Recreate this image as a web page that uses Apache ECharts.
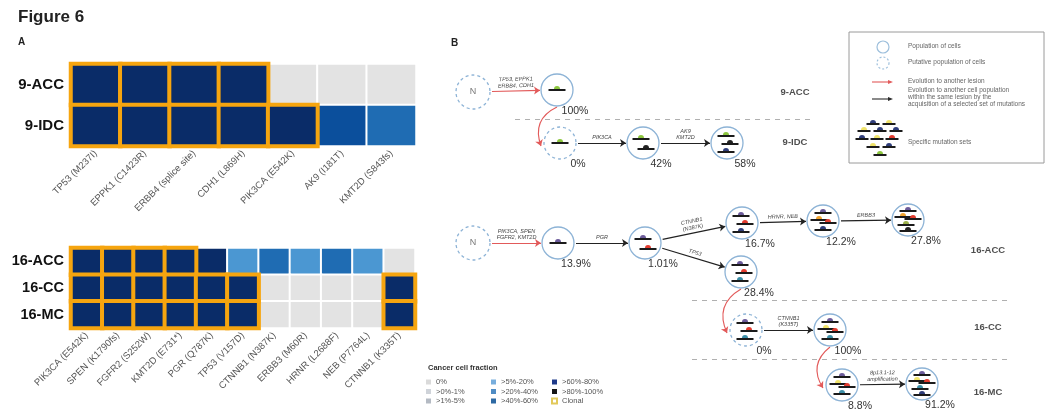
<!DOCTYPE html>
<html>
<head>
<meta charset="utf-8">
<script src="https://cdn.jsdelivr.net/npm/echarts@6/dist/echarts.min.js"></script>
<style>
html, body { margin: 0; background: #fff; }
#chart { width: 1049px; height: 411px; }
</style>
</head>
<body>
<div id="chart"></div>
<script>
// ---- panel A : cancer cell fraction heatmaps ----
const genes9 = ["TP53 (M237I)", "EPPK1 (C1423R)", "ERBB4 (splice site)", "CDH1 (L869H)",
  "PIK3CA (E542K)", "AK9 (I181T)", "KMT2D (S843fs)"];
const lesions9 = ["9-ACC", "9-IDC"];
// ccf class: 0 = 0%, 3 = >5-20%, 4 = >20-40%, 5 = >40-60%, 7 = >80-100%
const ccf9 = [
  [7, 7, 7, 7, 0, 0, 0],
  [7, 7, 7, 7, 7, 5, 4]
];
const clonal9 = [
  [1, 1, 1, 1, 0, 0, 0],
  [1, 1, 1, 1, 1, 0, 0]
];

const genes16 = ["PIK3CA (E542K)", "SPEN (K1790fs)", "FGFR2 (S252W)", "KMT2D (E731*)", "PGR (Q787K)",
  "TP53 (V157D)", "CTNNB1 (N387K)", "ERBB3 (M60R)", "HRNR (L2688F)", "NEB (P7764L)", "CTNNB1 (K335T)"];
const lesions16 = ["16-ACC", "16-CC", "16-MC"];
const ccf16 = [
  [7, 7, 7, 7, 7, 3, 4, 3, 4, 3, 0],
  [7, 7, 7, 7, 7, 7, 0, 0, 0, 0, 7],
  [7, 7, 7, 7, 7, 7, 0, 0, 0, 0, 7]
];
const clonal16 = [
  [1, 1, 1, 1, 0, 0, 0, 0, 0, 0, 0],
  [1, 1, 1, 1, 1, 1, 0, 0, 0, 0, 1],
  [1, 1, 1, 1, 1, 1, 0, 0, 0, 0, 1]
];

const ccfClasses = ["0%", ">0%-1%", ">1%-5%", ">5%-20%", ">20%-40%", ">40%-60%", ">60%-80%", ">80%-100%"];

// ---- panel B : evolution trees ----
// [id, x, y, cell fraction, putative population]
const nodes = [
  ["N9", 473, 92, "N", true],
  ["9a", 557, 90, "100%", false],
  ["9b", 560, 143, "0%", true],
  ["9c", 643, 143, "42%", false],
  ["9d", 727, 143, "58%", false],
  ["N16", 473, 243, "N", true],
  ["16a", 558, 243, "13.9%", false],
  ["16b", 645, 243, "1.01%", false],
  ["16c", 742, 223, "16.7%", false],
  ["16d", 823, 221, "12.2%", false],
  ["16e", 908, 220, "27.8%", false],
  ["16f", 741, 272, "28.4%", false],
  ["16g", 746, 330, "0%", true],
  ["16h", 830, 330, "100%", false],
  ["16i", 842, 385, "8.8%", false],
  ["16j", 922, 384, "91.2%", false]
];
// [from, to, acquired mutations, kind]
const edges = [
  ["N9", "9a", "TP53, EPPK1\nERBB4, CDH1", "lesion"],
  ["9a", "9b", "", "lesion"],
  ["9b", "9c", "PIK3CA", "clone"],
  ["9c", "9d", "AK9\nKMT2D", "clone"],
  ["N16", "16a", "PIK3CA, SPEN\nFGFR2, KMT2D", "lesion"],
  ["16a", "16b", "PGR", "clone"],
  ["16b", "16c", "CTNNB1\n(N387K)", "clone"],
  ["16b", "16f", "TP53", "clone"],
  ["16c", "16d", "HRNR, NEB", "clone"],
  ["16d", "16e", "ERBB3", "clone"],
  ["16f", "16g", "", "lesion"],
  ["16g", "16h", "CTNNB1\n(K335T)", "clone"],
  ["16h", "16i", "", "lesion"],
  ["16i", "16j", "8p13.1-12\namplification", "clone"]
];
// mutation sets carried by each population, top to bottom
const nodeMutations = {
  "9a": ["green"], "9b": ["green"], "9c": ["green", "black"], "9d": ["green", "black", "navy"],
  "16a": ["purple"], "16b": ["purple", "red"], "16c": ["purple", "red", "navy"],
  "16d": ["purple", "orange", "red", "navy"], "16e": ["purple", "orange", "red", "olive", "black"],
  "16f": ["purple", "red", "teal"], "16g": ["purple", "red", "teal"],
  "16h": ["purple", "yellow", "red", "teal"], "16i": ["purple", "yellow", "red", "teal"],
  "16j": ["purple", "yellow", "red", "teal", "navy"]
};
const lesionTags = [["9-ACC", 795, 92], ["9-IDC", 795, 142], ["16-ACC", 988, 250], ["16-CC", 988, 327], ["16-MC", 988, 392]];
const separators = [[[515, 119], [815, 119]], [[692, 300], [1012, 300]], [[692, 359], [1012, 359]]];

// ---- styles ----
const heatColors = ["#e3e3e3", "#d3d8df", "#b9c5d4", "#4b97d2", "#1f6cb3", "#0b4f9c", "#143d86", "#0a2c68"];
const legendSwatch = ["#dadada", "#cfd3d9", "#b4bac3", "#78aedd", "#4f8cc4", "#2d69a3", "#1f3b8a", "#151515"];
const mutColor = { green: "#8cc63e", purple: "#6b5b9a", red: "#e23b2e", navy: "#2f3d7a", black: "#222",
  orange: "#f0a32e", yellow: "#f0e36a", teal: "#3d8fa8", olive: "#9bb04a" };
const slotOffsets = {
  1: [[0, -1]],
  2: [[-2, -5], [3, 5]],
  3: [[-1, -8], [3, 0], [-1, 8]],
  4: [[0, -9], [-4, -2], [5, 1], [0, 8]],
  5: [[0, -10], [-5, -4], [5, -2], [-2, 4], [0, 10]]
};
const R = 16;

const byId = {};
nodes.forEach(n => { byId[n[0]] = n; });

function cells(ccf, clonal) {
  const out = [];
  ccf.forEach((row, r) => row.forEach((v, c) => out.push({ value: [c, r, v], clonal: clonal[r][c] })));
  out.sort((a, b) => a.clonal - b.clonal);
  return out.map(d => ({
    value: d.value,
    itemStyle: d.clonal ? { borderColor: "#f6a50f", borderWidth: 4 } : { borderColor: "#fff", borderWidth: 2 }
  }));
}

function glyph(cx, cy, color, w) {
  return [
    { type: "rect", shape: { x: cx - w / 2, y: cy, width: w, height: 2 }, style: { fill: "#1b1b1b" } },
    { type: "sector", shape: { cx: cx, cy: cy, r0: 0, r: 3, startAngle: Math.PI, endAngle: Math.PI * 2 }, style: { fill: color } }
  ];
}

// edge geometry from node centres
const edgeData = edges.map(e => {
  const s = byId[e[0]], t = byId[e[1]];
  const rs = s[3] === "N" ? R + 1 : R, rt = R;
  let a, b, curve = 0;
  if (t[2] - s[2] > 30) {
    a = [s[1], s[2] + rs + 1];
    b = [t[1] - rt - 3, t[2] + 3];
    curve = -0.45;
  } else {
    const dx = t[1] - s[1], dy = t[2] - s[2], len = Math.hypot(dx, dy);
    a = [s[1] + dx / len * (rs + 2), s[2] + dy / len * (rs + 2)];
    b = [t[1] - dx / len * (rt + 1), t[2] - dy / len * (rt + 1)];
  }
  const red = e[3] === "lesion";
  return {
    name: e[2],
    coords: [a, b],
    lineStyle: { color: red ? "#e25a5a" : "#222", width: red ? 1.1 : 1.2, curveness: curve, opacity: 1 },
    label: { show: e[2] !== "" }
  };
});

const glyphData = [];
Object.keys(nodeMutations).forEach(id => {
  const n = byId[id], list = nodeMutations[id];
  list.forEach((m, k) => glyphData.push([n[1], n[2], k, list.length, Object.keys(mutColor).indexOf(m)]));
});

const legendNames = ccfClasses.concat(["Clonal"]);
const legendSeries = legendNames.map((name, i) => ({
  type: "scatter", name: name, xAxisIndex: 2, yAxisIndex: 2, data: [],
  itemStyle: i < 8 ? { color: legendSwatch[i], opacity: 1 } : { color: "#fff", borderColor: "#e2c95a", borderWidth: 1, opacity: 1 }
}));

// legend box icon for the mutation sets
const iconSets = [[873, 123, "navy"], [889, 123, "yellow"], [864, 130, "yellow"], [880, 130, "navy"], [896, 130, "navy"],
  [862, 138, "navy"], [877, 138, "yellow"], [892, 138, "red"], [873, 146, "yellow"], [889, 146, "navy"], [880, 154, "green"]];
const iconEls = [];
iconSets.forEach(g => glyph(g[0], g[1], mutColor[g[2]], 13).forEach(el => iconEls.push(el)));

const txt = (x, y, text, size, weight, color) => ({
  type: "text", x: x, y: y,
  style: { text: text, fontSize: size, fontWeight: weight || "normal", fill: color || "#222", fontFamily: "Liberation Sans" }
});

const catAxis = (grid, data, rot) => ({
  gridIndex: grid, type: "category", data: data,
  axisLine: { show: false }, axisTick: { show: false }, splitLine: { show: false },
  axisLabel: rot ? { interval: 0, rotate: 45, fontSize: 9.5, color: "#555", margin: 6 } : {}
});

const option = {
  animation: false,
  textStyle: { fontFamily: "Liberation Sans" },
  grid: [
    { left: 71, top: 64, width: 345, height: 82 },
    { left: 71, top: 248, width: 344, height: 80 },
    { left: 0, top: 0, width: 1049, height: 411 }
  ],
  xAxis: [
    catAxis(0, genes9, true),
    catAxis(1, genes16, true),
    { gridIndex: 2, type: "value", min: 0, max: 1049, show: false }
  ],
  yAxis: [
    Object.assign(catAxis(0, lesions9, false), { inverse: true, axisLabel: { fontSize: 15, fontWeight: "bold", color: "#111", margin: 7 } }),
    Object.assign(catAxis(1, lesions16, false), { inverse: true, axisLabel: { fontSize: 14.5, fontWeight: "bold", color: "#111", margin: 7 } }),
    { gridIndex: 2, type: "value", min: 0, max: 411, inverse: true, show: false }
  ],
  visualMap: {
    type: "piecewise", show: false, seriesIndex: [0, 1], dimension: 2,
    pieces: heatColors.map((c, i) => ({ value: i, color: c }))
  },
  legend: [0, 1, 2].map(k => ({
    orient: "vertical", left: [426, 491, 551][k], top: 378, padding: 0,
    itemWidth: 5, itemHeight: 5, itemGap: 1.5, selectedMode: false, icon: "rect",
    textStyle: { fontSize: 7.5, color: "#555" },
    data: legendNames.slice(k * 3, k * 3 + 3)
  })),
  graphic: [
    txt(18, 9, "Figure 6", 17, "bold"),
    txt(18, 37, "A", 10, "bold"),
    txt(451, 38, "B", 10, "bold"),
    txt(428, 364, "Cancer cell fraction", 7.5, "bold", "#333"),
    { type: "rect", shape: { x: 849, y: 32, width: 195, height: 131 }, style: { fill: "none", stroke: "#9a9a9a", lineWidth: 1 } },
    { type: "circle", shape: { cx: 883, cy: 47, r: 6 }, style: { fill: "none", stroke: "#9dbfdc", lineWidth: 1.2 } },
    { type: "circle", shape: { cx: 883, cy: 63, r: 6 }, style: { fill: "none", stroke: "#9dbfdc", lineWidth: 1.2, lineDash: [2, 2] } },
    { type: "line", shape: { x1: 872, y1: 82, x2: 890, y2: 82 }, style: { stroke: "#e25a5a", lineWidth: 1.1 } },
    { type: "polygon", shape: { points: [[893, 82], [888, 80], [888, 84]] }, style: { fill: "#e25a5a" } },
    { type: "line", shape: { x1: 872, y1: 99, x2: 890, y2: 99 }, style: { stroke: "#2a2a2a", lineWidth: 1.1 } },
    { type: "polygon", shape: { points: [[893, 99], [888, 97], [888, 101]] }, style: { fill: "#2a2a2a" } },
    { type: "group", children: iconEls },
    txt(908, 43, "Population of cells", 6.5, "normal", "#666"),
    txt(908, 59, "Putative population of cells", 6.5, "normal", "#666"),
    txt(908, 78, "Evolution to another lesion", 6.5, "normal", "#666"),
    txt(908, 87, "Evolution to another cell population", 6.5, "normal", "#666"),
    txt(908, 94, "within the same lesion by the", 6.5, "normal", "#666"),
    txt(908, 101, "acquisition of a selected set of mutations", 6.5, "normal", "#666"),
    txt(908, 139, "Specific mutation sets", 6.5, "normal", "#666")
  ],
  series: [
    { type: "heatmap", xAxisIndex: 0, yAxisIndex: 0, data: cells(ccf9, clonal9), emphasis: { disabled: true } },
    { type: "heatmap", xAxisIndex: 1, yAxisIndex: 1, data: cells(ccf16, clonal16), emphasis: { disabled: true } },
    {
      type: "lines", coordinateSystem: "cartesian2d", xAxisIndex: 2, yAxisIndex: 2, silent: true,
      lineStyle: { color: "#b0b0b0", width: 1.2, type: [5, 5], opacity: 1 },
      data: separators.map(s => ({ coords: s }))
    },
    {
      type: "lines", coordinateSystem: "cartesian2d", xAxisIndex: 2, yAxisIndex: 2, silent: true, z: 3,
      symbol: ["none", "arrow"], symbolSize: 6,
      label: { show: true, position: "middle", formatter: "{b}", fontSize: 5.5, lineHeight: 6.5, color: "#444", fontStyle: "italic", distance: 2 },
      data: edgeData
    },
    {
      type: "scatter", xAxisIndex: 2, yAxisIndex: 2, silent: true, symbol: "circle", z: 4,
      data: nodes.map(n => ({
        value: [n[1], n[2]],
        symbolSize: n[3] === "N" ? 2 * R + 2 : 2 * R,
        itemStyle: { color: "#fff", opacity: 1, borderColor: "#8db3d6", borderWidth: 1.3, borderType: n[4] ? [3, 3] : "solid" },
        label: n[3] === "N"
          ? { show: true, formatter: "N", position: "inside", fontSize: 9, color: "#777" }
          : { show: true, formatter: n[3], position: "bottom", offset: [18, -6], fontSize: 10.5, color: "#333" }
      }))
    },
    {
      type: "custom", xAxisIndex: 2, yAxisIndex: 2, silent: true, z: 6,
      encode: { x: 0, y: 1 },
      data: glyphData,
      renderItem: (params, api) => {
        const p = api.coord([api.value(0), api.value(1)]);
        const off = slotOffsets[api.value(3)][api.value(2)];
        const color = mutColor[Object.keys(mutColor)[api.value(4)]];
        return { type: "group", children: glyph(p[0] + off[0], p[1] + off[1], color, 17) };
      }
    },
    {
      type: "scatter", xAxisIndex: 2, yAxisIndex: 2, silent: true, symbolSize: 0,
      label: { show: true, position: "inside", formatter: p => p.data.name, fontSize: 9.5, fontWeight: "bold", color: "#222" },
      data: lesionTags.map(t => ({ name: t[0], value: [t[1], t[2]] }))
    }
  ].concat(legendSeries)
};

const chart = echarts.init(document.getElementById("chart"));
chart.setOption(option);
window.addEventListener("resize", () => chart.resize());
</script>
</body>
</html>
